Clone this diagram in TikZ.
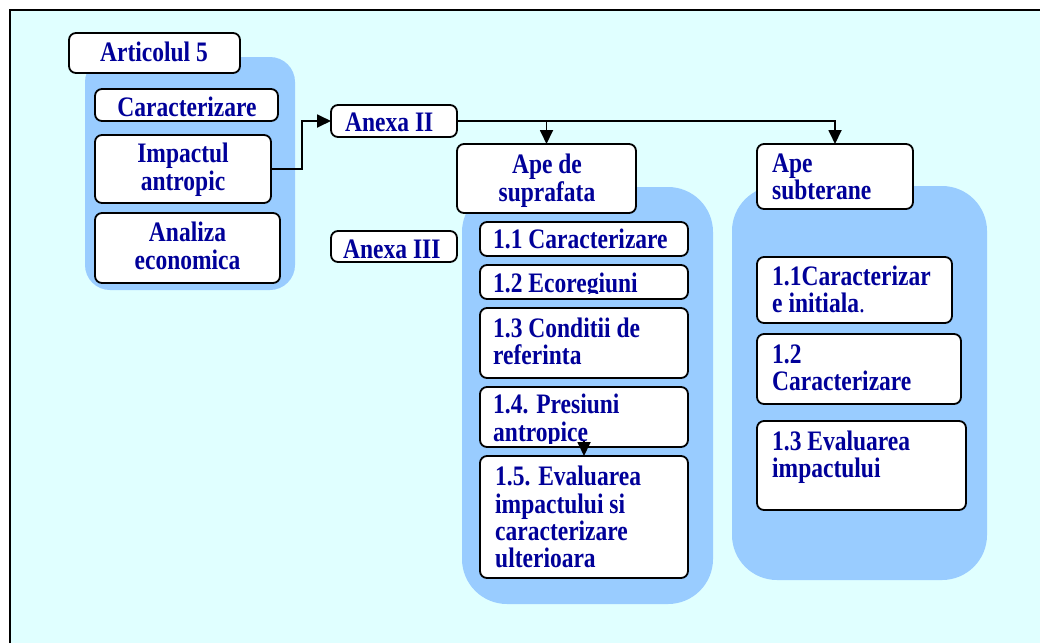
\documentclass[tikz,border=0pt]{standalone}
\usepackage{fontspec}
\usepackage{graphicx}
\setmainfont{Liberation Serif}
\usetikzlibrary{arrows.meta}
\definecolor{bgc}{HTML}{E0FFFF}
\definecolor{grp}{HTML}{99CCFF}
\definecolor{tb}{HTML}{000099}
\newcommand\bx[5]{\node[box, minimum width={#4-#2}, minimum height={#5-#3}] (#1) at ({(#2+#4)/2},{(#3+#5)/2}) {};}
\newcommand\sy[1]{\scalebox{1}[1.2]{#1}}
\begin{document}
\begin{tikzpicture}[x=1pt,y=-1pt,
  box/.style={draw=black, line width=1.8pt, fill=white, rounded corners=7pt, inner sep=0pt, outer sep=0pt},
  lbl/.style={text=tb, font=\fontsize{23.5}{28}\selectfont\bfseries, inner sep=0pt},
  lw/.style={lbl, anchor=base west},
  lc/.style={lbl, anchor=base},
  conn/.style={line width=1.8pt, draw=black},
  tip/.style={-{Triangle[length=14pt,width=13pt]}}
]
\useasboundingbox (0,0) rectangle (1040,643);
\fill[bgc] (10,10) rectangle (1040,643);
\draw[line width=2pt] (10,643) -- (10,10) -- (1040,10);

% groups
\fill[grp, rounded corners=25pt] (85,57) rectangle (295,290);
\fill[grp, rounded corners=45pt] (462,187) rectangle (713,604);
\fill[grp, rounded corners=45pt] (732,186) rectangle (987,580);

% boxes
\bx{art5}{69}{33}{240}{73}
\bx{car}{95}{89}{278}{121}
\bx{imp}{95}{135}{271}{203}
\bx{ana}{95}{213}{280}{283}
\bx{anexa2}{331}{105}{457}{137}
\bx{anexa3}{331}{231}{457}{262}
\bx{apesup}{457}{144}{636}{213}
\bx{s11}{480}{222}{688}{256}
\bx{s12}{480}{265}{688}{299}
\bx{s13}{480}{308}{688}{378}
\bx{s14}{480}{387}{688}{447}
\bx{s15}{480}{456}{688}{578}
\bx{apesub}{757}{144}{913}{209}
\bx{u11}{757}{257}{952}{323}
\bx{u12}{757}{334}{961}{404}
\bx{u13}{757}{421}{966}{510}

% texts
\node[lc] (tart5) at (154,61) {\sy{Articolul 5}};
\node[lc] (tcar) at (187,116) {\sy{Caracterizare}};
\node[lc] (timpa) at (183,162) {\sy{Impactul}};
\node[lc] (timpb) at (183,190) {\sy{antropic}};
\node[lc] (tanaa) at (187.5,241) {\sy{Analiza}};
\node[lc] (tanab) at (187.5,269) {\sy{economica}};
\node[lw] (tanx2) at (345,131) {\sy{Anexa II}};
\node[lw] (tanx3) at (343,258) {\sy{Anexa III}};
\node[lc] (tsupa) at (547,173) {\sy{Ape de}};
\node[lc] (tsupb) at (547,201) {\sy{suprafata}};
\node[lw] (ts11) at (493,248) {\sy{1.1 Caracterizare}};
\begin{scope}
\clip (480,265) rectangle (688,293.5);
\node[lw] (ts12) at (493,292) {\sy{1.2 Ecoregiuni}};
\end{scope}
\node[lw] (ts13a) at (493,337) {\sy{1.3 Conditii de}};
\node[lw] (ts13b) at (493,364) {\sy{referinta}};
\node[lw] (ts14a) at (493,413) {\sy{1.4. Presiuni}};
\begin{scope}
\clip (480,387) rectangle (688,443);
\node[lw] (ts14b) at (493,441) {\sy{antropice}};
\end{scope}
\node[lw] (ts15a) at (495,485) {\sy{1.5. Evaluarea}};
\node[lw] (ts15b) at (495,513) {\sy{impactului si}};
\node[lw] (ts15c) at (495,540) {\sy{caracterizare}};
\node[lw] (ts15d) at (495,567) {\sy{ulterioara}};
\node[lw] (tsuba) at (772,172) {\sy{Ape}};
\node[lw] (tsubb) at (772,199) {\sy{subterane}};
\node[lw] (tu11a) at (772,285) {\sy{1.1Caracterizar}};
\node[lw] (tu11b) at (772,312) {\sy{e initiala\textmd{.}}};
\node[lw] (tu12a) at (772,363) {\sy{1.2}};
\node[lw] (tu12b) at (772,390) {\sy{Caracterizare}};
\node[lw] (tu13a) at (772,450) {\sy{1.3 Evaluarea}};
\node[lw] (tu13b) at (772,477) {\sy{impactului}};

% connectors
\draw[conn,tip] (imp.east) -- ++(31,0) |- (anexa2.west);
\draw[conn,tip] (anexa2.east) -| (apesub.north);
\draw[conn,tip] (anexa2.east -| apesup.north) -- (apesup.north);
\draw[conn,tip] ([yshift=15pt]s15.north) -- (s15.north);
\end{tikzpicture}
\end{document}
